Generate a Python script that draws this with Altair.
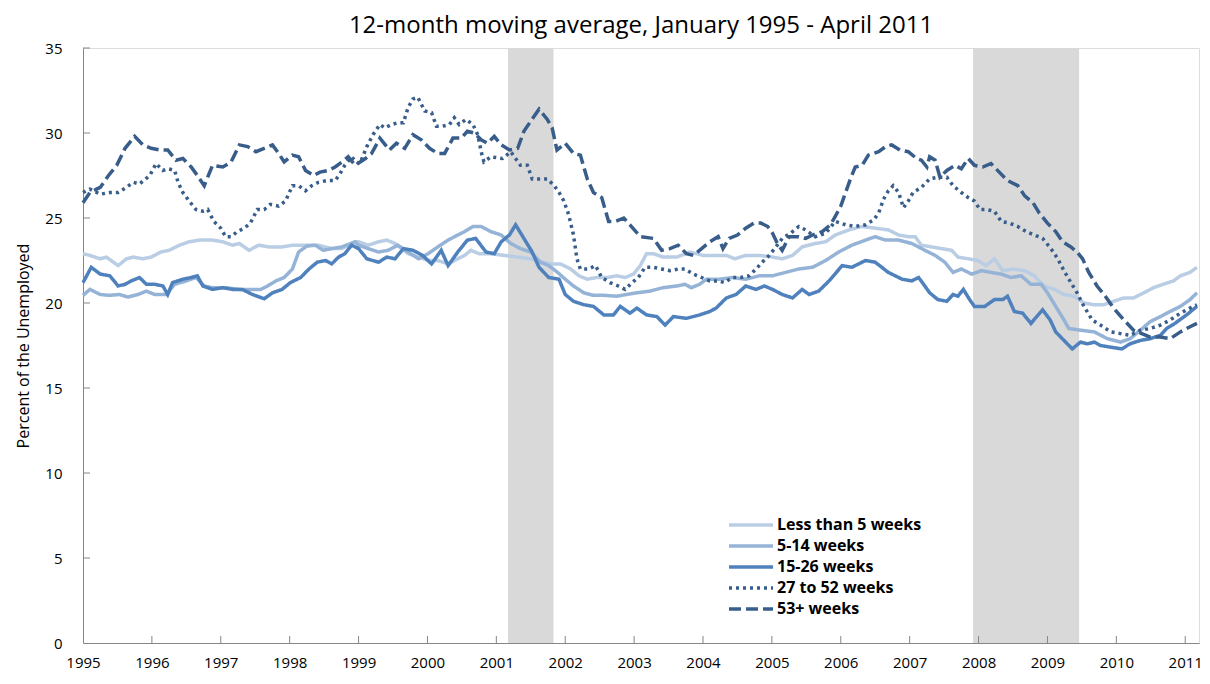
import altair as alt
import pandas as pd

# ---------------- data ----------------
series_names = ["Less than 5 weeks", "5-14 weeks", "15-26 weeks", "27 to 52 weeks", "53+ weeks"]

lt5_year = [1995.0, 1995.10, 1995.25, 1995.34, 1995.51, 1995.63, 1995.73, 1995.87, 1995.99, 1996.13, 1996.25,
            1996.40, 1996.54, 1996.69, 1996.88, 1997.03, 1997.17, 1997.27, 1997.41, 1997.55, 1997.70, 1997.89,
            1998.04, 1998.23, 1998.42, 1998.61, 1998.76, 1998.95, 1999.0, 1999.14, 1999.29, 1999.41, 1999.53,
            1999.72, 1999.87, 2000.01, 2000.15, 2000.30, 2000.44, 2000.54, 2000.63, 2000.75, 2000.92, 2001.11,
            2001.31, 2001.50, 2001.67, 2001.79, 2001.93, 2002.08, 2002.20, 2002.32, 2002.46, 2002.61, 2002.75,
            2002.87, 2002.99, 2003.09, 2003.18, 2003.28, 2003.42, 2003.62, 2003.81, 2004.0, 2004.19, 2004.34,
            2004.46, 2004.62, 2004.82, 2005.01, 2005.15, 2005.30, 2005.44, 2005.63, 2005.78, 2005.92, 2006.12,
            2006.31, 2006.50, 2006.69, 2006.84, 2006.98, 2007.08, 2007.17, 2007.32, 2007.46, 2007.61, 2007.70,
            2007.85, 2007.99, 2008.11, 2008.23, 2008.35, 2008.50, 2008.67, 2008.81, 2008.95, 2009.10, 2009.24,
            2009.39, 2009.53, 2009.67, 2009.82, 2009.96, 2010.11, 2010.25, 2010.40, 2010.54, 2010.68, 2010.83,
            2010.93, 2011.07, 2011.17]
lt5_pct = [22.9, 22.8, 22.6, 22.7, 22.2, 22.6, 22.7, 22.6, 22.7, 23.0, 23.1,
           23.4, 23.6, 23.7, 23.7, 23.6, 23.4, 23.5, 23.1, 23.4, 23.3, 23.3,
           23.4, 23.4, 23.4, 23.2, 23.2, 23.6, 23.6, 23.4, 23.6, 23.7, 23.5,
           22.9, 22.7, 22.5, 22.5, 22.3, 22.6, 22.8, 23.1, 22.9, 22.9, 22.8,
           22.7, 22.6, 22.4, 22.3, 22.3, 22.0, 21.6, 21.4, 21.5, 21.5, 21.6,
           21.5, 21.7, 22.2, 22.9, 22.9, 22.7, 22.7, 23.0, 22.8, 22.8, 22.8,
           22.6, 22.8, 22.8, 22.7, 22.6, 22.8, 23.3, 23.5, 23.6, 24.0, 24.3,
           24.5, 24.4, 24.3, 24.0, 23.9, 23.9, 23.4, 23.3, 23.2, 23.1, 22.7,
           22.6, 22.5, 22.2, 22.6, 21.9, 22.0, 21.9, 21.6, 21.0, 20.8, 20.5,
           20.4, 20.0, 19.9, 19.9, 20.1, 20.3, 20.3, 20.6, 20.9, 21.1, 21.3,
           21.6, 21.8, 22.1]

w5_14_year = [1995.0, 1995.10, 1995.25, 1995.39, 1995.53, 1995.65, 1995.80, 1995.92, 1996.04, 1996.21, 1996.33,
              1996.50, 1996.64, 1996.76, 1996.88, 1997.07, 1997.27, 1997.46, 1997.58, 1997.68, 1997.80, 1997.92,
              1998.04, 1998.13, 1998.25, 1998.37, 1998.49, 1998.61, 1998.76, 1998.95, 1999.0, 1999.14, 1999.29,
              1999.43, 1999.57, 1999.72, 1999.87, 2000.01, 2000.15, 2000.30, 2000.44, 2000.54, 2000.66, 2000.78,
              2000.92, 2001.07, 2001.21, 2001.35, 2001.50, 2001.64, 2001.76, 2001.89, 2002.0, 2002.12, 2002.27,
              2002.41, 2002.56, 2002.75, 2002.89, 2003.04, 2003.23, 2003.42, 2003.62, 2003.74, 2003.83, 2003.95,
              2004.05, 2004.24, 2004.43, 2004.62, 2004.82, 2005.01, 2005.20, 2005.39, 2005.59, 2005.78, 2005.97,
              2006.16, 2006.36, 2006.50, 2006.65, 2006.84, 2007.03, 2007.08, 2007.22, 2007.37, 2007.51, 2007.63,
              2007.75, 2007.90, 2008.04, 2008.18, 2008.33, 2008.47, 2008.62, 2008.76, 2008.91, 2009.0, 2009.12,
              2009.24, 2009.31, 2009.48, 2009.68, 2009.87, 2010.06, 2010.20, 2010.35, 2010.49, 2010.64, 2010.78,
              2010.93, 2011.07, 2011.17]
w5_14_pct = [20.45, 20.8, 20.5, 20.45, 20.5, 20.35, 20.5, 20.7, 20.5, 20.5, 21.1,
             21.3, 21.5, 21.0, 20.9, 20.9, 20.8, 20.8, 20.8, 21.0, 21.3, 21.5,
             22.0, 23.0, 23.35, 23.4, 23.1, 23.2, 23.3, 23.6, 23.4, 23.2, 23.0,
             23.1, 23.4, 23.0, 22.6, 22.9, 23.3, 23.7, 24.0, 24.2, 24.5, 24.5,
             24.2, 24.0, 23.5, 23.2, 23.0, 22.4, 22.2, 21.8, 21.4, 21.0, 20.6,
             20.45, 20.45, 20.4, 20.5, 20.6, 20.7, 20.9, 21.0, 21.1, 20.9, 21.1,
             21.4, 21.4, 21.5, 21.4, 21.6, 21.6, 21.8, 22.0, 22.1, 22.5, 23.0,
             23.4, 23.7, 23.9, 23.7, 23.7, 23.5, 23.4, 23.1, 22.8, 22.4, 21.8,
             22.0, 21.7, 21.9, 21.8, 21.7, 21.5, 21.6, 21.1, 21.1, 20.6, 19.8,
             19.0, 18.5, 18.4, 18.3, 17.9, 17.7, 17.9, 18.4, 18.9, 19.2, 19.5,
             19.8, 20.2, 20.6]

w15_26_year = [1995.0, 1995.12, 1995.25, 1995.39, 1995.51, 1995.61, 1995.70, 1995.82, 1995.92, 1996.04, 1996.16,
               1996.23, 1996.30, 1996.45, 1996.57, 1996.66, 1996.74, 1996.88, 1997.03, 1997.17, 1997.31, 1997.46,
               1997.63, 1997.75, 1997.89, 1998.01, 1998.16, 1998.28, 1998.40, 1998.52, 1998.61, 1998.71, 1998.80,
               1998.90, 1999.0, 1999.12, 1999.29, 1999.41, 1999.53, 1999.65, 1999.79, 1999.93, 2000.06, 2000.20,
               2000.30, 2000.44, 2000.58, 2000.70, 2000.85, 2000.97, 2001.07, 2001.19, 2001.28, 2001.40, 2001.52,
               2001.62, 2001.76, 2001.91, 2002.0, 2002.12, 2002.27, 2002.41, 2002.56, 2002.70, 2002.80, 2002.94,
               2003.04, 2003.18, 2003.33, 2003.45, 2003.57, 2003.76, 2003.95, 2004.10, 2004.19, 2004.34, 2004.48,
               2004.62, 2004.77, 2004.89, 2005.01, 2005.15, 2005.30, 2005.44, 2005.54, 2005.68, 2005.83, 2006.02,
               2006.16, 2006.36, 2006.50, 2006.69, 2006.89, 2007.03, 2007.13, 2007.22, 2007.29, 2007.41, 2007.54,
               2007.63, 2007.70, 2007.78, 2007.87, 2007.94, 2008.09, 2008.23, 2008.35, 2008.42, 2008.52, 2008.64,
               2008.76, 2008.93, 2009.04, 2009.12, 2009.24, 2009.36, 2009.48, 2009.58, 2009.68, 2009.77, 2009.92,
               2010.08, 2010.20, 2010.35, 2010.49, 2010.64, 2010.73, 2010.85, 2011.02, 2011.17]
w15_26_pct = [21.2, 22.1, 21.7, 21.6, 21.0, 21.1, 21.3, 21.5, 21.1, 21.1, 21.0,
              20.5, 21.2, 21.4, 21.5, 21.6, 21.0, 20.8, 20.9, 20.8, 20.8, 20.5,
              20.25, 20.6, 20.8, 21.2, 21.5, 22.0, 22.4, 22.5, 22.3, 22.7, 22.9,
              23.4, 23.2, 22.6, 22.4, 22.7, 22.6, 23.2, 23.1, 22.8, 22.3, 23.1,
              22.2, 23.0, 23.7, 23.8, 23.0, 22.9, 23.6, 24.0, 24.6, 23.8, 23.0,
              22.1, 21.5, 21.4, 20.5, 20.1, 19.9, 19.8, 19.3, 19.3, 19.8, 19.4,
              19.7, 19.3, 19.2, 18.7, 19.2, 19.1, 19.3, 19.5, 19.7, 20.3, 20.5,
              21.0, 20.8, 21.0, 20.8, 20.5, 20.3, 20.8, 20.5, 20.7, 21.3, 22.2,
              22.1, 22.5, 22.4, 21.8, 21.4, 21.3, 21.5, 21.0, 20.6, 20.2, 20.1,
              20.5, 20.4, 20.8, 20.2, 19.8, 19.8, 20.2, 20.2, 20.4, 19.5, 19.4,
              18.8, 19.6, 19.0, 18.3, 17.8, 17.3, 17.7, 17.6, 17.7, 17.5, 17.4,
              17.3, 17.6, 17.8, 17.9, 18.1, 18.5, 18.8, 19.3, 19.8]

w27_52_year = [1995.0, 1995.10, 1995.25, 1995.39, 1995.51, 1995.63, 1995.73, 1995.82, 1995.97, 1996.06, 1996.16,
               1996.23, 1996.33, 1996.38, 1996.45, 1996.54, 1996.64, 1996.74, 1996.81, 1996.90, 1997.0, 1997.07,
               1997.15, 1997.24, 1997.34, 1997.43, 1997.53, 1997.63, 1997.72, 1997.84, 1997.94, 1998.04, 1998.13,
               1998.23, 1998.32, 1998.42, 1998.54, 1998.66, 1998.73, 1998.80, 1998.90, 1998.96, 1999.02, 1999.12,
               1999.21, 1999.31, 1999.38, 1999.48, 1999.57, 1999.65, 1999.72, 1999.79, 1999.86, 1999.96, 2000.06,
               2000.13, 2000.22, 2000.32, 2000.39, 2000.46, 2000.56, 2000.66, 2000.73, 2000.78, 2000.82, 2000.92,
               2001.09, 2001.21, 2001.35, 2001.45, 2001.52, 2001.74, 2001.84, 2001.91, 2001.98, 2002.05, 2002.12,
               2002.17, 2002.22, 2002.34, 2002.44, 2002.53, 2002.65, 2002.77, 2002.87, 2002.97, 2003.06, 2003.16,
               2003.28, 2003.40, 2003.52, 2003.64, 2003.74, 2003.86, 2003.98, 2004.10, 2004.22, 2004.31, 2004.43,
               2004.55, 2004.67, 2004.77, 2004.86, 2004.96, 2005.06, 2005.15, 2005.27, 2005.39, 2005.49, 2005.63,
               2005.78, 2005.92, 2006.07, 2006.21, 2006.36, 2006.48, 2006.55, 2006.62, 2006.69, 2006.76, 2006.84,
               2006.91, 2006.98, 2007.05, 2007.17, 2007.29, 2007.41, 2007.54, 2007.63, 2007.75, 2007.85, 2007.94,
               2008.02, 2008.11, 2008.23, 2008.33, 2008.45, 2008.57, 2008.69, 2008.81, 2008.93, 2009.05, 2009.15,
               2009.24, 2009.34, 2009.43, 2009.53, 2009.65, 2009.77, 2009.92, 2010.06, 2010.20, 2010.35, 2010.49,
               2010.64, 2010.78, 2010.93, 2011.07, 2011.17]
w27_52_pct = [26.5, 26.7, 26.4, 26.5, 26.5, 26.8, 27.1, 27.0, 27.5, 28.2, 27.8,
              27.9, 27.8, 27.1, 26.5, 26.0, 25.5, 25.4, 25.5, 24.8, 24.4, 23.9,
              23.9, 24.2, 24.4, 24.7, 25.5, 25.5, 25.8, 25.7, 26.0, 26.9, 26.9,
              26.6, 26.9, 27.1, 27.2, 27.2, 27.6, 28.1, 28.6, 28.3, 28.2, 29.2,
              29.9, 30.5, 30.3, 30.5, 30.6, 30.6, 31.5, 32.0, 32.1, 31.3, 31.2,
              30.4, 30.4, 30.5, 30.9, 30.5, 30.8, 30.5, 29.9, 28.9, 28.3, 28.6,
              28.5, 28.9, 28.1, 28.1, 27.3, 27.3, 26.9, 26.5, 26.0, 25.2, 24.0,
              22.6, 22.0, 22.0, 22.2, 21.5, 21.2, 21.0, 20.8, 21.2, 21.5, 22.1,
              22.1, 22.0, 21.9, 22.0, 22.0, 21.7, 21.5, 21.3, 21.3, 21.2, 21.5,
              21.5, 21.6, 22.0, 22.4, 22.8, 23.3, 23.8, 24.1, 24.5, 24.3, 23.9,
              24.1, 24.8, 24.6, 24.5, 24.6, 24.9, 25.3, 26.1, 26.6, 26.9, 26.5,
              25.6, 26.0, 26.5, 26.8, 27.3, 27.4, 27.4, 26.9, 26.5, 26.2, 26.0,
              25.5, 25.5, 25.4, 24.8, 24.7, 24.5, 24.2, 24.0, 23.8, 23.2, 22.6,
              21.9, 21.2, 20.6, 19.8, 19.0, 18.7, 18.3, 18.2, 18.1, 18.4, 18.5,
              18.7, 19.0, 19.4, 19.7, 19.9]

w53_year = [1995.0, 1995.10, 1995.25, 1995.37, 1995.49, 1995.61, 1995.75, 1995.87, 1995.99, 1996.11, 1996.23,
            1996.35, 1996.45, 1996.57, 1996.66, 1996.76, 1996.88, 1997.03, 1997.15, 1997.27, 1997.39, 1997.51,
            1997.63, 1997.75, 1997.84, 1997.92, 1998.04, 1998.13, 1998.23, 1998.35, 1998.44, 1998.56, 1998.66,
            1998.76, 1998.85, 1998.95, 1999.10, 1999.19, 1999.31, 1999.45, 1999.55, 1999.67, 1999.79, 1999.91,
            2000.03, 2000.15, 2000.25, 2000.37, 2000.49, 2000.58, 2000.68, 2000.78, 2000.87, 2000.97, 2001.07,
            2001.19, 2001.31, 2001.40, 2001.50, 2001.62, 2001.74, 2001.81, 2001.88, 2002.0, 2002.12, 2002.22,
            2002.32, 2002.41, 2002.53, 2002.63, 2002.73, 2002.85, 2002.94, 2003.09, 2003.28, 2003.40, 2003.52,
            2003.64, 2003.76, 2003.86, 2003.98, 2004.10, 2004.22, 2004.29, 2004.38, 2004.50, 2004.62, 2004.74,
            2004.84, 2004.94, 2005.01, 2005.08, 2005.15, 2005.25, 2005.39, 2005.49, 2005.59, 2005.73, 2005.85,
            2005.92, 2006.0, 2006.07, 2006.14, 2006.21, 2006.31, 2006.40, 2006.55, 2006.65, 2006.74, 2006.86,
            2006.98, 2007.10, 2007.17, 2007.25, 2007.29, 2007.37, 2007.44, 2007.54, 2007.66, 2007.75, 2007.85,
            2007.94, 2008.06, 2008.18, 2008.30, 2008.42, 2008.57, 2008.67, 2008.79, 2008.88, 2009.0, 2009.12,
            2009.22, 2009.34, 2009.43, 2009.51, 2009.60, 2009.72, 2009.84, 2009.96, 2010.11, 2010.25, 2010.37,
            2010.49, 2010.64, 2010.78, 2010.93, 2011.07, 2011.17]
w53_pct = [25.9, 26.5, 26.8, 27.5, 28.1, 29.1, 29.8, 29.3, 29.1, 29.0, 29.0,
           28.4, 28.5, 28.0, 27.5, 26.9, 28.1, 28.0, 28.3, 29.3, 29.2, 28.9,
           29.1, 29.3, 28.8, 28.3, 28.7, 28.6, 27.8, 27.5, 27.7, 27.8, 28.0,
           28.3, 28.6, 28.1, 28.5, 28.8, 29.7, 29.0, 29.4, 29.1, 29.9, 29.6,
           29.1, 28.8, 28.8, 29.7, 29.7, 30.1, 30.0, 29.6, 29.4, 29.8, 29.3,
           29.0, 29.1, 30.1, 30.7, 31.4, 30.8, 30.3, 29.0, 29.4, 28.8, 28.7,
           27.3, 26.5, 26.2, 24.8, 24.8, 25.0, 24.6, 23.9, 23.8, 23.1, 23.2,
           23.4, 22.9, 22.8, 23.2, 23.6, 23.9, 23.2, 23.8, 24.0, 24.4, 24.7,
           24.7, 24.5, 24.1, 23.5, 23.1, 23.9, 23.9, 23.8, 24.0, 24.2, 24.6,
           25.1, 25.7, 26.5, 27.3, 28.0, 28.1, 28.7, 28.9, 29.2, 29.3, 29.0,
           28.9, 28.5, 28.4, 28.0, 28.6, 28.4, 27.4, 27.8, 28.1, 27.9, 28.5,
           28.1, 28.0, 28.2, 27.7, 27.2, 26.9, 26.3, 25.9, 25.3, 24.7, 24.2,
           23.6, 23.3, 23.0, 22.6, 21.8, 21.0, 20.4, 19.7, 19.0, 18.4, 18.2,
           18.0, 18.0, 17.9, 18.3, 18.6, 18.8]

series_colors = ["#b9cde5", "#95b3d7", "#4f81bd", "#385d8a", "#385d8a"]
series_dashes = [[1, 0], [1, 0], [1, 0], [3, 4], [12, 5]]

recession_start = [2001.17, 2007.92]
recession_end = [2001.83, 2009.46]

year_ticks = list(range(1995, 2012))
pct_ticks = [0, 5, 10, 15, 20, 25, 30, 35]

# ---------------- build tables ----------------
rows = []
for name, yrs, vals in zip(series_names,
                           [lt5_year, w5_14_year, w15_26_year, w27_52_year, w53_year],
                           [lt5_pct, w5_14_pct, w15_26_pct, w27_52_pct, w53_pct]):
    for yv, pv in zip(yrs, vals):
        rows.append({"series": name, "year": yv, "pct": pv})
df = pd.DataFrame(rows)

rec_df = pd.DataFrame({"start": recession_start, "end": recession_end})
xtick_df = pd.DataFrame({"year": year_ticks[1:]})
ytick_df = pd.DataFrame({"pct": pct_ticks[1:]})

W, H = 1116, 595
FONT = "Open Sans"

x_scale = alt.Scale(domain=[1995, 2011.2], nice=False, zero=False)
y_scale = alt.Scale(domain=[0, 35], nice=False)

x_axis = alt.Axis(values=year_ticks, format="d", labelFlush=False, tickSize=0, grid=False,
                  labelPadding=12, labelFontSize=15, labelFont=FONT, labelColor="black",
                  domainColor="#868686", title=None, labelOverlap=False)
y_axis = alt.Axis(values=pct_ticks, tickSize=0, grid=False, labelPadding=21,
                  labelFontSize=15, labelFont=FONT, labelColor="black",
                  domainColor="#868686", title="Percent of the Unemployed",
                  titleFont=FONT, titleFontSize=16, titleFontWeight="normal",
                  titleColor="black", titlePadding=13)

rec = alt.Chart(rec_df).mark_rect(color="#d9d9d9").encode(
    x=alt.X("start:Q", scale=x_scale, axis=x_axis),
    x2="end:Q",
    y=alt.value(0),
    y2=alt.value(H),
)

xticks = alt.Chart(xtick_df).mark_rule(color="#868686", strokeWidth=1).encode(
    x=alt.X("year:Q", scale=x_scale),
    y=alt.value(H),
    y2=alt.value(H - 7),
)
yticks = alt.Chart(ytick_df).mark_rule(color="#868686", strokeWidth=1).encode(
    y=alt.Y("pct:Q", scale=y_scale, axis=y_axis),
    x=alt.value(0),
    x2=alt.value(7),
)

legend = alt.Legend(title=None, orient="none", legendX=655, legendY=464,
                    symbolType="M-2,0L2,0", symbolSize=484, symbolStrokeWidth=3.5,
                    labelFont=FONT, labelFontSize=16, labelFontWeight="bold",
                    labelColor="black", rowPadding=0, labelOffset=13)

lines = alt.Chart(df).mark_line(strokeWidth=3.5).encode(
    x=alt.X("year:Q", scale=x_scale),
    y=alt.Y("pct:Q", scale=y_scale),
    color=alt.Color("series:N", scale=alt.Scale(domain=series_names, range=series_colors), legend=legend),
    strokeDash=alt.StrokeDash("series:N", scale=alt.Scale(domain=series_names, range=series_dashes), legend=legend),
    detail="series:N",
    order=alt.Order("year:Q"),
)

chart = alt.layer(rec, xticks, yticks, lines).properties(
    width=W, height=H,
    title=alt.TitleParams(text="12-month moving average, January 1995 - April 2011",
                          font=FONT, fontSize=24, fontWeight="normal", color="black",
                          anchor="middle", offset=3),
    autosize=alt.AutoSizeParams(type="none"),
    padding={"left": 75, "top": 40, "right": 3, "bottom": 33},
).configure_view(stroke=None).configure(background="white")

chart.save("out.html", embed_options={"renderer": "svg", "actions": False})
